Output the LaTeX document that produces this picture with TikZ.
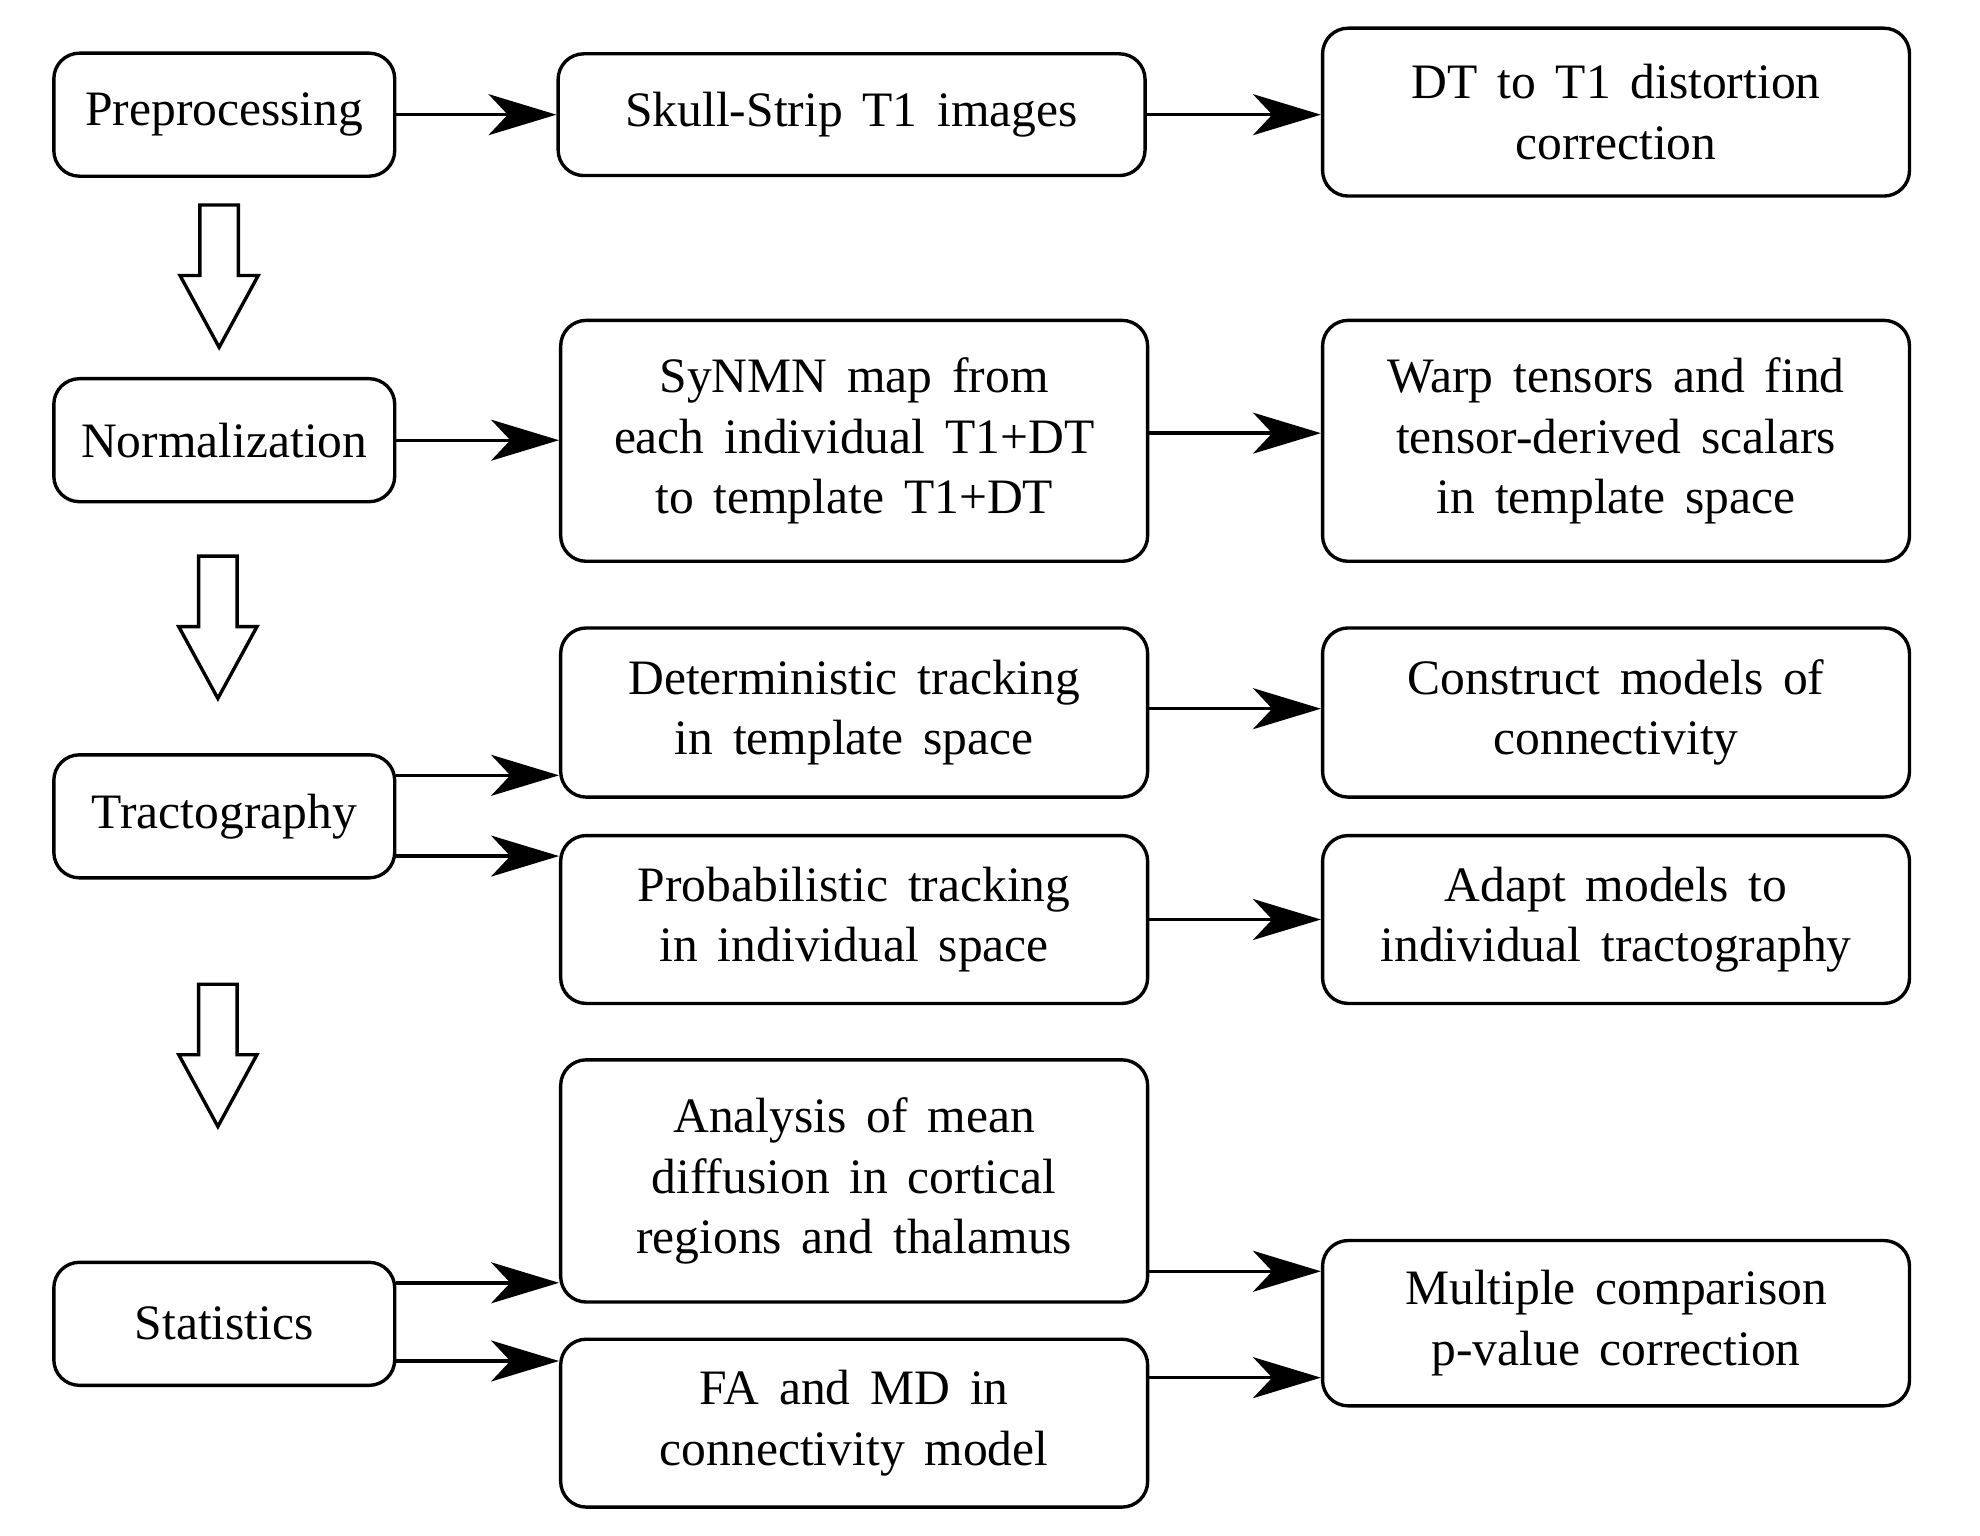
\documentclass[tikz,border=0pt]{standalone}
\usepackage{fontspec}
\setmainfont[WordSpace=1.6]{Liberation Serif}
\usepackage{tikz}
\usetikzlibrary{arrows.meta,calc}

\begin{document}
\begin{tikzpicture}[x=0.1mm,y=-0.1mm,
			blk/.style={draw=black,line width=0.75pt,rounded corners=2mm,align=center,inner sep=0pt,font=\fontsize{11}{13.4}\selectfont},
			stage/.style={blk,minimum width=26.6mm,minimum height=9.6mm},
			task/.style={blk,minimum width=45.8mm},
			arr/.style={line width=0.75pt,-{Stealth[length=5.3mm,width=3.2mm,inset=1.5mm]}},
			dwn/.style={draw=black,line width=0.75pt,fill=white}]
		\useasboundingbox (0,0) rectangle (1545,1198);
		% stages
		\path 	(175,89.5) 	node 	(pre) 	[stage] {Preprocessing}
		        (175,343.5) 	node 	(norm) 	[stage] {Normalization}
		        (175,637) 	node 	(tract) [stage] {Tractography}
		        (175,1033) 	node 	(stat) 	[stage] {Statistics};
		% middle column
		\path 	(664.5,89.5) 	node 	(skull) [task, minimum height=9.5mm] {Skull-Strip T1 images}
		        (666.5,344) 	node 	(syn) 	[task, minimum height=18.8mm] {SyNMN map from\\each individual T1+DT\\to template T1+DT}
		        (666.5,556) 	node 	(det) 	[task, minimum height=13.2mm] {Deterministic tracking\\in template space}
		        (666.5,717.5) 	node 	(prob) 	[task, minimum height=13.1mm] {Probabilistic tracking\\in individual space}
		        (666.5,921.5) 	node 	(ana) 	[task, minimum height=18.9mm] {Analysis of mean\\diffusion in cortical\\regions and thalamus}
		        (666.5,1110.5) 	node 	(fa) 	[task, minimum height=13.1mm] {FA and MD in\\connectivity model};
		% right column
		\path 	(1261,87.5) 	node 	(dt) 	[task, minimum height=13.1mm] {DT to T1 distortion\\correction}
		        (1261,344) 	node 	(warp) 	[task, minimum height=18.8mm] {Warp tensors and find\\tensor-derived scalars\\in template space}
		        (1261,556) 	node 	(cons) 	[task, minimum height=13.2mm] {Construct models of\\connectivity}
		        (1261,717.5) 	node 	(adapt) [task, minimum height=13.1mm] {Adapt models to\\individual tractography}
		        (1261,1032.5) 	node 	(mult) 	[task, minimum height=12.9mm] {Multiple comparison\\p-value correction};
		\draw [arr] (pre.east) -- (pre.east -| skull.west);
		\draw [arr] (skull.east) -- (skull.east -| dt.west);
		\draw [arr] (norm.east) -- (norm.east -| syn.west);
		\draw [arr] ([yshift=0.6mm]syn.east) -- ([yshift=0.6mm]syn.east -| warp.west);
		\draw [arr] ([yshift=3.2mm]tract.east) -- ([yshift=3.2mm]tract.east -| det.west);
		\draw [arr] ([yshift=-3.1mm]tract.east) -- ([yshift=-3.1mm]tract.east -| prob.west);
		\draw [arr] ([yshift=0.3mm]det.east) -- ([yshift=0.3mm]det.east -| cons.west);
		\draw [arr] (prob.east) -- (prob.east -| adapt.west);
		\draw [arr] ([yshift=3.2mm]stat.east) -- ([yshift=3.2mm]stat.east -| ana.west);
		\draw [arr] ([yshift=-2.9mm]stat.east) -- ([yshift=-2.9mm]stat.east -| fa.west);
		\draw [arr] ([yshift=-7.05mm]ana.east) -- ([yshift=-7.05mm]ana.east -| mult.west);
		\draw [arr] ([yshift=3.55mm]fa.east) -- ([yshift=3.55mm]fa.east -| mult.west);
		% hollow arrows between stages
		\foreach \x/\y in {171/160,170/434,170/768}
			\draw [dwn] (\x-15,\y) -- (\x+15,\y) -- (\x+15,\y+55) -- (\x+30.5,\y+55) -- (\x,\y+111) -- (\x-30.5,\y+55) -- (\x-15,\y+55) -- cycle;
	\end{tikzpicture}
\end{document}
